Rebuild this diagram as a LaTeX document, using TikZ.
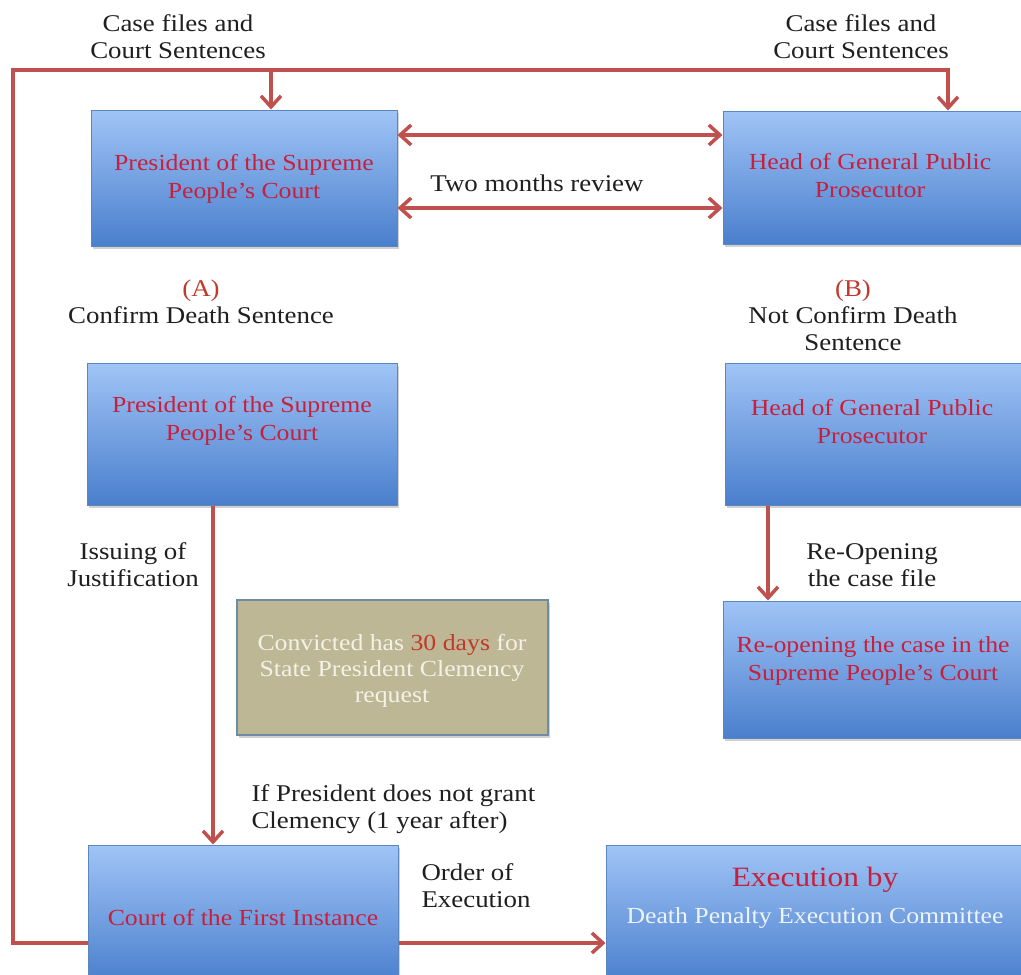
\documentclass[tikz,border=0pt]{standalone}
\usepackage{fontspec}
\setmainfont{Liberation Serif}[FakeStretch=1.12]
\usetikzlibrary{arrows.meta,shadows}
\definecolor{arrred}{HTML}{C0504D}
\definecolor{boxtop}{HTML}{A0C4F6}
\definecolor{boxbot}{HTML}{4A7FCD}
\definecolor{boxline}{HTML}{5B86BE}
\definecolor{txtred}{HTML}{C8203C}
\definecolor{labred}{HTML}{C0392B}
\definecolor{tanfill}{HTML}{BEB795}
\definecolor{tanline}{HTML}{6F8CA6}
\definecolor{tantext}{HTML}{F4F1E6}
\definecolor{exectext}{HTML}{EEF3FA}
\begin{document}
\begin{tikzpicture}[x=1pt,y=-1pt,
  bluebox/.style={draw=boxline, line width=1pt, top color=boxtop, bottom color=boxbot, inner sep=0pt,
    drop shadow={shadow xshift=2pt,shadow yshift=-3pt,fill=black!40,opacity=0.45}},
  tanbox/.style={draw=tanline, line width=1.5pt, fill=tanfill, inner sep=0pt,
    drop shadow={shadow xshift=2pt,shadow yshift=-3pt,fill=black!40,opacity=0.45}},
  boxtext/.style={text=txtred, align=center, font=\fontsize{23}{28}\selectfont},
  lab/.style={align=center, text=black!88, font=\fontsize{24}{27}\selectfont},
  conn/.style={draw=arrred, line width=3.5pt},
  arr/.style={conn, -{Straight Barb[length=11pt,width=20pt]}},
  dbl/.style={conn, {Straight Barb[length=11pt,width=20pt]}-{Straight Barb[length=11pt,width=20pt]}}
]
\useasboundingbox (0,0) rectangle (1021,975);
\fill[white] (0,0) rectangle (1021,975);

% boxes
\node[bluebox, minimum width=306pt, minimum height=136pt] (pres1) at (244,178) {};
\node[bluebox, minimum width=302pt, minimum height=133pt] (head1) at (874,177.5) {};
\node[bluebox, minimum width=310pt, minimum height=142pt] (pres2) at (242,434) {};
\node[bluebox, minimum width=300pt, minimum height=142pt] (head2) at (875,434) {};
\node[bluebox, minimum width=302pt, minimum height=137pt] (reop) at (874,669.5) {};
\node[tanbox, minimum width=311pt, minimum height=135pt] (tan) at (392.5,667.5) {};
\node[bluebox, minimum width=310pt, minimum height=138pt] (court) at (243,914) {};
\node[bluebox, minimum width=419pt, minimum height=138pt] (exec) at (815.5,914) {};

% box texts
\node[boxtext] (pres1t) at (244,179) {President of the Supreme\\People’s Court};
\node[boxtext] (head1t) at (870,176) {Head of General Public\\Prosecutor};
\node[boxtext] (pres2t) at (242,421) {President of the Supreme\\People’s Court};
\node[boxtext] (head2t) at (872,422) {Head of General Public\\Prosecutor};
\node[boxtext] (reopt) at (873,661) {Re-opening the case in the\\Supreme People’s Court};
\node[align=center, text=tantext, font=\fontsize{23}{26}\selectfont] (tant) at (392,671)
  {Convicted has {\color{labred}30 days} for\\State President Clemency\\request};
\node[boxtext] (courtt) at (243,918) {Court of the First Instance};
\node[text=txtred, font=\fontsize{28}{30}\selectfont] (exect1) at (815,880) {Execution by};
\node[text=exectext, font=\fontsize{23}{28}\selectfont] (exect2) at (815,918) {Death Penalty Execution Committee};

% labels
\node[lab] (cf1) at (178,37) {Case files and\\Court Sentences};
\node[lab] (cf2) at (861,37) {Case files and\\Court Sentences};
\node[lab] (tmr) at (537,183) {Two months review};
\node[lab] (la) at (201,302) {{\color{labred}(A)}\\Confirm Death Sentence};
\node[lab] (lb) at (853,315) {{\color{labred}(B)}\\Not Confirm Death\\Sentence};
\node[lab] (iss) at (133,565) {Issuing of\\Justification};
\node[lab] (reo) at (872,565) {Re-Opening\\the case file};
\node[lab, align=left, anchor=west] (ifp) at (248,809) {If President does not grant\\Clemency (1 year after)};
\node[lab, align=left, anchor=west] (ord) at (418,886) {Order of\\Execution};

% connectors
\coordinate (tl) at (13,70);
\coordinate (tr) at (948,70);
\coordinate (j1) at (271,70);
\coordinate (d1) at (0,135);
\coordinate (d2) at (0,208);
\coordinate (v1) at (213,0);
\coordinate (v2) at (768,0);
\draw[arr] ([yshift=-29pt]court.west) -| (tl) -- (tr) -- (tr |- head1.north);
\draw[arr] (j1) -- (j1 |- pres1.north);
\draw[dbl] (pres1.east |- d1) -- (head1.west |- d1);
\draw[dbl] (pres1.east |- d2) -- (head1.west |- d2);
\draw[arr] (pres2.south -| v1) -- (court.north -| v1);
\draw[arr] (head2.south -| v2) -- (reop.north -| v2);
\draw[arr] ([yshift=-29pt]court.east) -- ([yshift=-29pt]exec.west);
\end{tikzpicture}
\end{document}
